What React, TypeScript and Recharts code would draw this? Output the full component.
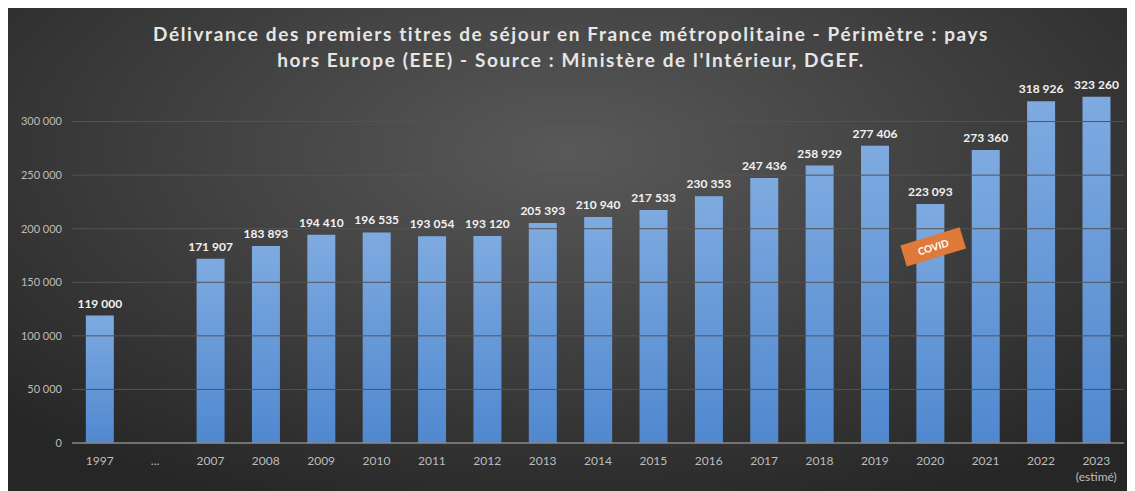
import React from 'react';
import {
    BarChart, Bar, XAxis, YAxis, LabelList, ReferenceDot, ReferenceLine,
} from 'recharts';

const years = ['1997', '...', '2007', '2008', '2009', '2010', '2011', '2012', '2013', '2014',
    '2015', '2016', '2017', '2018', '2019', '2020', '2021', '2022', '2023'];
const firstPermits: (number | null)[] = [119000, null, 171907, 183893, 194410, 196535, 193054, 193120,
    205393, 210940, 217533, 230353, 247436, 258929, 277406, 223093, 273360, 318926, 323260];
const yTicks = [0, 50000, 100000, 150000, 200000, 250000, 300000];
const subLabels: Record<string, string> = { '2023': '(estimé)' };

const data = years.map((year, i) => ({ year, value: firstPermits[i] }));

const FONT = 'Lato, "Open Sans", sans-serif';
const fmt = (v: number) => v.toLocaleString('fr-FR').replace(/\s/g, '\u202F');

const YearTick = ({ x, y, payload }: any) => (
    <g transform={`translate(${x},${y})`}>
        <text textAnchor="middle" y={14} fill="#bdbdbd" fontSize={12} fontFamily={FONT}>
            {payload.value}
        </text>
        {subLabels[payload.value] && (
            <text textAnchor="middle" y={30} fill="#bdbdbd" fontSize={12} fontFamily={FONT}>
                {subLabels[payload.value]}
            </text>
        )}
    </g>
);

// orange tag over the 2020 bar
const CovidTag = ({ cx, cy }: any) => (
    <g transform={`translate(${cx + 3},${cy}) rotate(-17)`}>
        <rect x={-31} y={-11} width={62} height={22} fill="#e07a3a" />
        <text textAnchor="middle" y={4} fill="#fff" fontSize={10} fontWeight={700} fontFamily={FONT}>
            COVID
        </text>
    </g>
);

export default function App() {
    return (
        <div style={{
            position: 'relative', width: 1128, height: 484, margin: '-1px 0 0 -1px',
            background: 'radial-gradient(ellipse 70% 80% at 50% 30%, #595959 0%, #3d3d3d 55%, #262626 100%)',
        }}>
            <div style={{
                position: 'absolute', top: 14, left: 0, width: 1128, textAlign: 'center',
                color: '#e6e6e6', fontFamily: FONT, fontWeight: 700, fontSize: 19,
                letterSpacing: 1.6, lineHeight: '26px',
            }}>
                Délivrance des premiers titres de séjour en France métropolitaine - Périmètre : pays<br />
                hors Europe (EEE) - Source : Ministère de l'Intérieur, DGEF.
            </div>
            <BarChart
                width={1128} height={484} data={data}
                margin={{ top: 61, right: 11, left: 0, bottom: 18 }}
                barCategoryGap="25%"
                style={{ position: 'absolute', top: 0, left: 0 }}
            >
                <defs>
                    <linearGradient id="barFill" x1="0" y1="0" x2="0" y2="1">
                        <stop offset="0%" stopColor="#7eaae0" />
                        <stop offset="100%" stopColor="#5088cf" />
                    </linearGradient>
                </defs>
                {yTicks.slice(1).map((t) => (
                    <ReferenceLine key={t} y={t} stroke="#545454" />
                ))}
                <XAxis
                    dataKey="year" interval={0} tick={<YearTick />} tickLine={false}
                    axisLine={{ stroke: '#8a8a8a', strokeWidth: 1.5 }}
                />
                <YAxis
                    domain={[0, 350000]} ticks={yTicks} width={65} tickLine={false} axisLine={false}
                    tickFormatter={fmt} tickMargin={4}
                    tick={{ fill: '#bdbdbd', fontSize: 11, fontFamily: FONT }}
                />
                <Bar dataKey="value" fill="url(#barFill)" isAnimationActive={false}>
                    <LabelList
                        dataKey="value" position="top" offset={8} formatter={(v: any) => (v == null ? '' : fmt(v))}
                        fill="#f2f2f2" fontSize={12} fontWeight={700} fontFamily={FONT}
                    />
                </Bar>
                <ReferenceDot x="2020" y={183000} shape={<CovidTag />} />
            </BarChart>
        </div>
    );
}
